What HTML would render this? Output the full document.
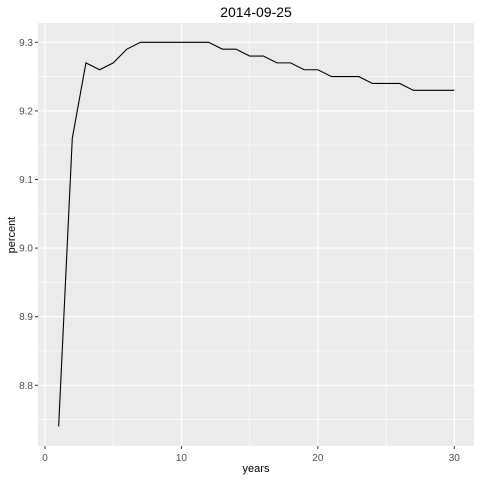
<!DOCTYPE html>
<html><head><meta charset="utf-8"><style>
body{margin:0;background:#fff}
svg{display:block;font-family:"Liberation Sans",sans-serif}
</style></head><body>
<svg id="chart" width="480" height="480">
<text x="256" y="17" text-anchor="middle" font-size="14" fill="#000">2014-09-25</text>
<rect x="38" y="23" width="436" height="423" fill="#ebebeb"/>
<g id="grid"></g>
<g id="axes"></g>
<path id="line" fill="none" stroke="#000" stroke-width="1.1"/>
<text x="256" y="472" text-anchor="middle" font-size="11" fill="#000">years</text>
<text transform="translate(15,235) rotate(-90)" text-anchor="middle" font-size="11" fill="#000">percent</text>
</svg>
<script>
const years=[1,2,3,4,5,6,7,8,9,10,11,12,13,14,15,16,17,18,19,20,21,22,23,24,25,26,27,28,29,30];
const percent=[8.74,9.16,9.27,9.26,9.27,9.29,9.30,9.30,9.30,9.30,9.30,9.30,9.29,9.29,9.28,9.28,9.27,9.27,9.26,9.26,9.25,9.25,9.25,9.24,9.24,9.24,9.23,9.23,9.23,9.23];
const xTicks=[0,10,20,30];
const yTicks=[8.8,8.9,9.0,9.1,9.2,9.3];
const yLabels=["8.8","8.9","9.0","9.1","9.2","9.3"];
const X=v=>45+v*(454.3-45)/30;
const Y=v=>385.3-(v-8.8)*(385.3-42.3)/0.5;
const NS="http://www.w3.org/2000/svg";
const grid=document.getElementById('grid'),axes=document.getElementById('axes');
function mk(tag,at,parent){const e=document.createElementNS(NS,tag);for(const k in at)e.setAttribute(k,at[k]);parent.appendChild(e);return e;}
for(let i=0;i<xTicks.length-1;i++){const m=(xTicks[i]+xTicks[i+1])/2;
const g=mk('line',{x1:X(m),x2:X(m),y1:23,y2:446,stroke:'#fff','stroke-width':0.6},grid);

}
for(let i=0;i<yTicks.length;i++){const m=yTicks[i]-0.05;
const g=mk('line',{x1:38,x2:474,y1:Y(m),y2:Y(m),stroke:'#fff','stroke-width':0.6},grid);

}
xTicks.forEach(t=>{const g=mk('line',{x1:X(t),x2:X(t),y1:23,y2:446,stroke:'#fff','stroke-width':1.2},grid);


const tk=mk('line',{x1:X(t),x2:X(t),y1:446,y2:449,stroke:'#333','stroke-width':1},axes);


const tx=mk('text',{x:X(t),y:461,'text-anchor':'middle','font-size':10,fill:'#4d4d4d'},axes);tx.textContent=t;

});
yTicks.forEach((t,i)=>{const g=mk('line',{x1:38,x2:474,y1:Y(t),y2:Y(t),stroke:'#fff','stroke-width':1.2},grid);


const tk=mk('line',{x1:35,x2:38,y1:Y(t),y2:Y(t),stroke:'#333','stroke-width':1},axes);


const tx=mk('text',{x:33,y:Y(t)+3.5,'text-anchor':'end','font-size':10,fill:'#4d4d4d'},axes);tx.textContent=yLabels[i];

});
document.getElementById('line').setAttribute('d',years.map((y,i)=>(i?'L':'M')+X(y)+','+Y(percent[i])).join(''));
</script>
</body></html>
